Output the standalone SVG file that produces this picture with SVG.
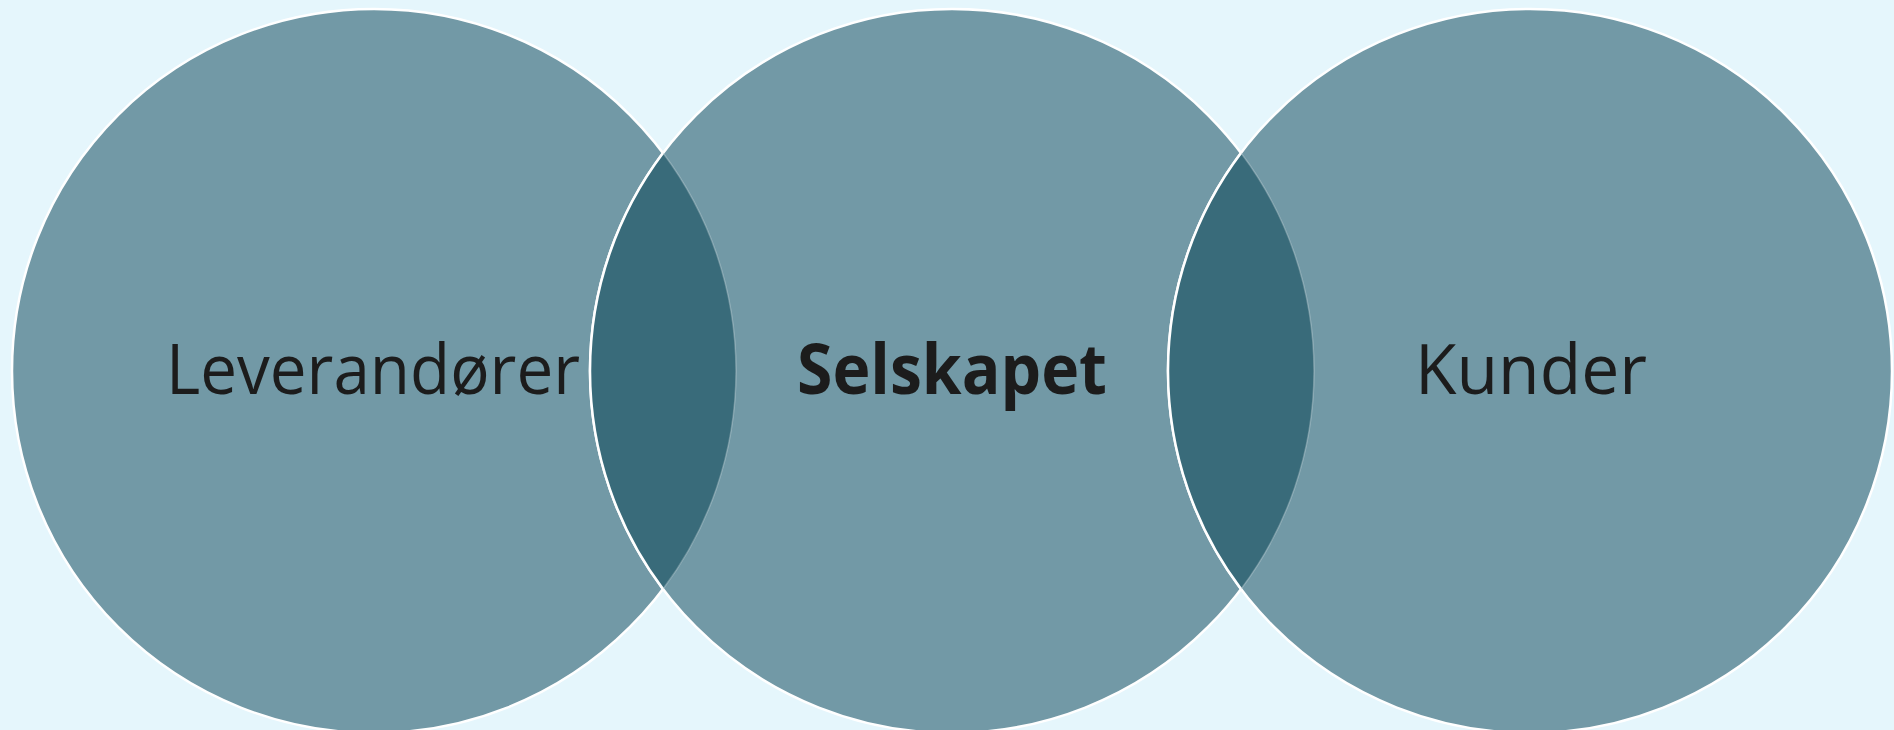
<svg xmlns="http://www.w3.org/2000/svg" width="1894" height="730" viewBox="0 0 1894 730">
  <style>
    .circle { fill: #7299A6; stroke: #FFFFFF; stroke-width: 2.5; }
    .lens { fill: #396B7A; stroke: none; }
    .edge { fill: none; stroke: #FFFFFF; stroke-width: 2.5; }
    .edge-faint { fill: none; stroke: #FFFFFF; stroke-width: 1.5; stroke-opacity: 0.25; }
    .label { font-family: "Open Sans", "Noto Sans", "Liberation Sans", sans-serif; font-size: 70px; fill: #1C1C1C; text-anchor: middle; }
    .bold { font-weight: bold; }
  </style>
  <rect x="0" y="0" width="1894" height="730" fill="#E5F6FC"/>
  <g id="node-leverandorer">
    <circle class="circle" cx="374" cy="371" r="362"/>
    <text class="label" x="373" y="394" textLength="414" lengthAdjust="spacingAndGlyphs">Leverandører</text>
  </g>
  <g id="node-selskapet">
    <circle class="circle" cx="952" cy="371" r="362"/>
  </g>
  <g id="node-kunder">
    <circle class="circle" cx="1530" cy="371" r="362"/>
  </g>
  <g id="overlaps">
    <path class="lens" d="M 663 153 A 362 362 0 0 0 663 589 A 362 362 0 0 0 663 153 Z"/>
    <path class="lens" d="M 1241 153 A 362 362 0 0 0 1241 589 A 362 362 0 0 0 1241 153 Z"/>
    <path class="edge-faint" d="M 663 589 A 362 362 0 0 0 663 153"/>
    <path class="edge-faint" d="M 1241 589 A 362 362 0 0 0 1241 153"/>
    <path class="edge" d="M 663 153 A 362 362 0 0 0 663 589"/>
    <path class="edge" d="M 1241 153 A 362 362 0 0 0 1241 589"/>
  </g>
  <g id="labels">
    <text class="label bold" x="952" y="394" textLength="310" lengthAdjust="spacingAndGlyphs">Selskapet</text>
    <text class="label" x="1531" y="394" textLength="232" lengthAdjust="spacingAndGlyphs">Kunder</text>
  </g>
</svg>
